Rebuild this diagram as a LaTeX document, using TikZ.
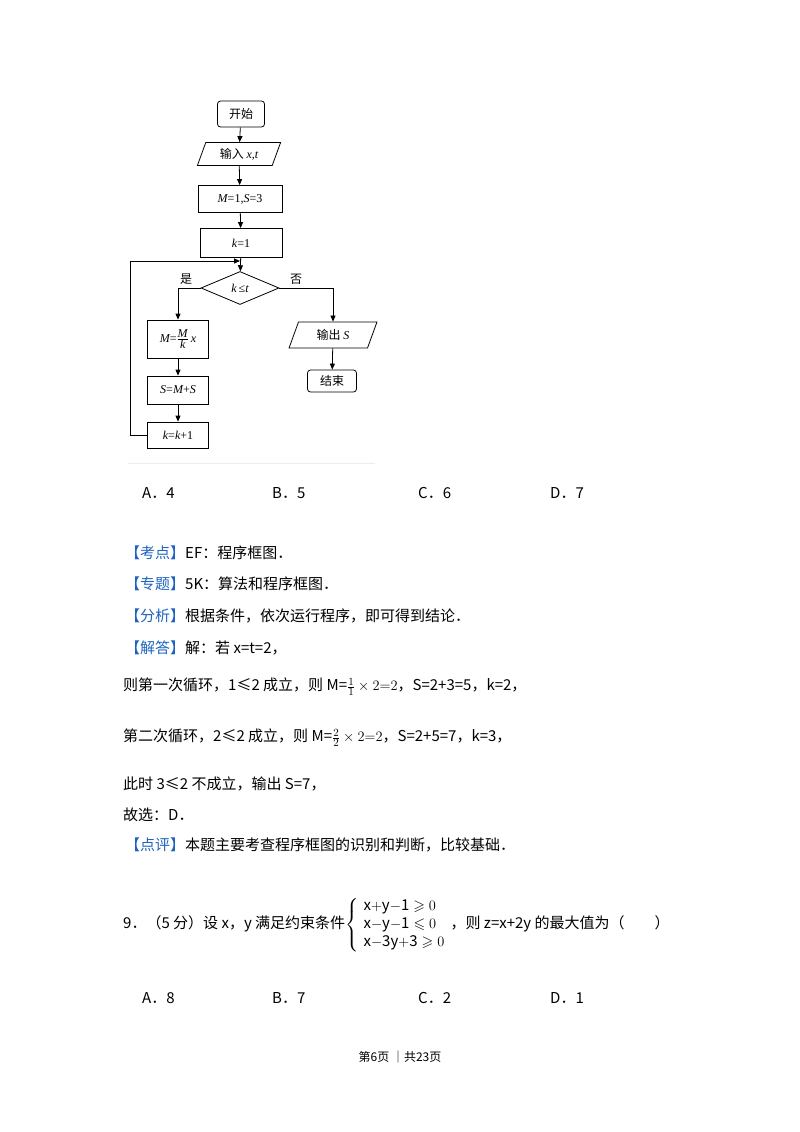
\documentclass[tikz,border=0pt]{standalone}
\usepackage{amssymb}
\usepackage{fontspec}
\setmainfont{Noto Sans CJK SC}
\newfontfamily\tnr{Liberation Serif}
\newfontfamily\cjk{Noto Sans CJK SC}
\usetikzlibrary{shapes.geometric,arrows.meta}
\definecolor{kblue}{RGB}{30,100,190}
\begin{document}
\begin{tikzpicture}[x=1pt,y=-1pt,
  fc/.style={draw,line width=0.8pt,font=\fontsize{12}{14}\selectfont,inner sep=1pt},
  boxs/.style={fc,rectangle,minimum width=60pt},
  term/.style={fc,rounded corners=3pt},
  io/.style={fc,trapezium,trapezium left angle=70,trapezium right angle=110,minimum height=23pt},
  arr/.style={-{Triangle[length=6pt,width=5pt]},line width=0.8pt},
  txt/.style={anchor=west,font=\fontsize{15}{18}\selectfont,inner sep=0pt},
  lb/.style={kblue}]
\useasboundingbox (0,0) rectangle (800,1132);
\fill[white] (0,0) rectangle (800,1132);
% flowchart
\node[term,minimum width=47pt,minimum height=26pt] (s) at (241,114) {开始};
\node[io,minimum width=78pt] (in) at (239,154) {输入 {\tnr\itshape x,t}};
\node[boxs,minimum width=84pt,minimum height=27pt] (m) at (240,199) {\tnr{\itshape M}=1,{\itshape S}=3};
\node[boxs,minimum width=82pt,minimum height=29pt] (k) at (241,243) {\tnr{\itshape k}=1};
\coordinate (j) at (240,261);
\node[fc,diamond,aspect=2.4,minimum width=78pt,minimum height=33pt,inner sep=0pt] (d) at (240,288) {\tnr{\itshape k}\,≤{\itshape t}};
\node[boxs,minimum width=61pt,minimum height=38pt] (a1) at (178,339) {\tnr{\itshape M}=$\frac{\textit{M}}{\textit{k}}$\,{\itshape x}};
\node[boxs,minimum width=61pt,minimum height=28pt] (a2) at (178,390) {\tnr{\itshape S}={\itshape M}+{\itshape S}};
\node[boxs,minimum width=61pt,minimum height=26pt] (a3) at (178,435) {\tnr{\itshape k}={\itshape k}+1};
\node[io,minimum width=72pt,minimum height=26pt] (out) at (333,335) {输出 {\tnr\itshape S}};
\node[term,minimum width=49pt,minimum height=22pt] (e) at (332,381) {结束};
\node[font=\fontsize{12}{14}\selectfont] (yes) at (186,279) {是};
\node[font=\fontsize{12}{14}\selectfont] (no) at (296,279) {否};
\draw[arr] (s) -- (in);
\draw[arr] (in) -- (m);
\draw[arr] (m) -- (k);
\draw[arr] (k) -- (d);
\draw[arr] (d.west) -| (a1.north);
\draw[arr] (a1) -- (a2);
\draw[arr] (a2) -- (a3);
\draw[arr] (a3.west) -- (130,435) -- (130,261) -- (j);
\draw[arr] (d.east) -| (out.north);
\draw[arr] (out) -- (e);
\draw[gray!15,line width=1pt] (128,463) -- (375,463);
% options
\foreach \t/\x in {A．4/142,B．5/272,C．6/418,D．7/550}{\node[txt] at (\x,493) {\t};}
\node[txt] at (125,553) {{\color{kblue}【考点】}EF：程序框图．};
\node[txt] at (125,584) {{\color{kblue}【专题】}5K：算法和程序框图．};
\node[txt] at (125,616) {{\color{kblue}【分析】}根据条件，依次运行程序，即可得到结论．};
\node[txt] at (125,648) {{\color{kblue}【解答】}解：若 x=t=2，};
\node[txt] at (123,687) {则第一次循环，1≤2 成立，则 M=$\frac{1}{1}\times 2{=}2$，S=2+3=5，k=2，};
\node[txt] at (123,738) {第二次循环，2≤2 成立，则 M=$\frac{2}{2}\times 2{=}2$，S=2+5=7，k=3，};
\node[txt] at (123,784) {此时 3≤2 不成立，输出 S=7，};
\node[txt] at (123,815) {故选：D．};
\node[txt] at (125,845) {{\color{kblue}【点评】}本题主要考查程序框图的识别和判断，比较基础．};
\node[txt] at (123,925) {9．（5 分）设 x，y 满足约束条件$\left\{\begin{array}{l}\mathrm{x{+}y{-}1}\geqslant 0\\ \mathrm{x{-}y{-}1}\leqslant 0\\ \mathrm{x{-}3y{+}3}\geqslant 0\end{array}\right.$，则 z=x+2y 的最大值为（\hspace{2em}）};
\foreach \t/\x in {A．8/142,B．7/272,C．2/418,D．1/550}{\node[txt] at (\x,998) {\t};}
\node[font=\fontsize{12}{14}\selectfont] at (400,1057) {第6页 ｜共23页};
\end{tikzpicture}
\end{document}
